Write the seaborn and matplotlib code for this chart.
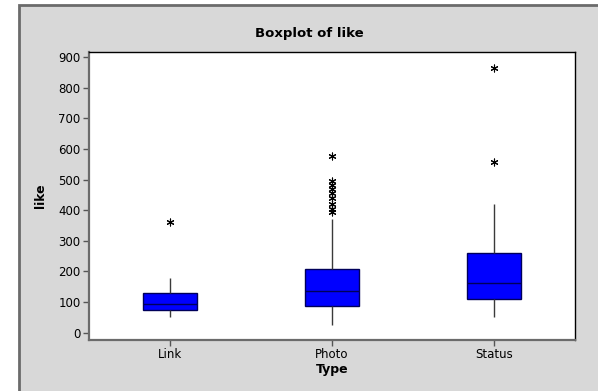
import numpy as np
import pandas as pd
import matplotlib
matplotlib.use("Agg")
import matplotlib.pyplot as plt
import seaborn as sns
from matplotlib.patches import Rectangle

# Categories and per-group five-number summaries (whisker low, Q1, median, Q3, whisker high)
types = ["Link", "Photo", "Status"]
link_box = [50, 73, 95, 131, 178]
photo_box = [26, 88, 137, 209, 372]
status_box = [50, 109, 162, 260, 420]

# Outliers (asterisks)
link_out = [361]
photo_out = [578, 497, 483, 469, 455, 440, 420, 405, 395]
status_out = [864, 559]

yticks = [0, 100, 200, 300, 400, 500, 600, 700, 800, 900]

box_df = pd.DataFrame({
    "Type": ["Link"] * len(link_box) + ["Photo"] * len(photo_box) + ["Status"] * len(status_box),
    "like": link_box + photo_box + status_box,
})
out_df = pd.DataFrame({
    "Type": ["Link"] * len(link_out) + ["Photo"] * len(photo_out) + ["Status"] * len(status_out),
    "like": link_out + photo_out + status_out,
})

sns.set_style("white")
plt.rcParams["font.family"] = ["DejaVu Sans"]
plt.rcParams["text.color"] = "black"
plt.rcParams["axes.labelcolor"] = "black"

fig = plt.figure(figsize=(5.98, 3.91), dpi=100, facecolor="white")

# grey panel behind everything
fig.patches.append(Rectangle((19 / 598, -0.2), 1.2, 1.2 - 5 / 391,
                             transform=fig.transFigure, facecolor="#d8d8d8",
                             edgecolor="#6b6b6b", linewidth=2, zorder=-10))

ax = fig.add_axes([89 / 598, 1 - 340 / 391, (575 - 89) / 598, (340 - 52) / 391])
ax.set_facecolor("white")

sns.boxplot(data=box_df, x="Type", y="like", order=types, ax=ax,
            whis=(0, 100), width=0.33, showfliers=False, showcaps=False,
            color="#0000ff", saturation=1, linewidth=1, linecolor="#00005a",
            boxprops=dict(facecolor="#0000ff", edgecolor="#00005a"),
            medianprops=dict(color="#00005a", linewidth=1),
            whiskerprops=dict(color="#3a3a3a", linewidth=1))

sns.stripplot(data=out_df, x="Type", y="like", order=types, ax=ax,
              jitter=False, marker=(6, 2, 0), size=5, color="black",
              linewidth=0.8, edgecolor="black")

ax.set_xlim(-0.5, 2.5)
ax.set_ylim(-24, 917)
ax.set_yticks(yticks)
ax.set_yticklabels([str(v) for v in yticks])

ax.tick_params(axis="both", direction="out", length=4, width=1, color="#555555",
               labelsize=8.5, labelcolor="black", pad=2, left=True, bottom=True)

for side in ["top", "right"]:
    ax.spines[side].set_color("black")
    ax.spines[side].set_linewidth(1)
for side in ["left", "bottom"]:
    ax.spines[side].set_color("#6b6b6b")
    ax.spines[side].set_linewidth(1.6)

ax.set_xlabel("Type", fontsize=9, fontweight="bold", labelpad=1, color="black")
ax.set_ylabel("like", fontsize=9, fontweight="bold", labelpad=8, color="black")

fig.text(309 / 598, 1 - 33 / 391, "Boxplot of like", ha="center", va="center",
         fontsize=9.5, fontweight="bold", color="black")

fig.savefig("out.png", dpi=100, facecolor=fig.get_facecolor())
